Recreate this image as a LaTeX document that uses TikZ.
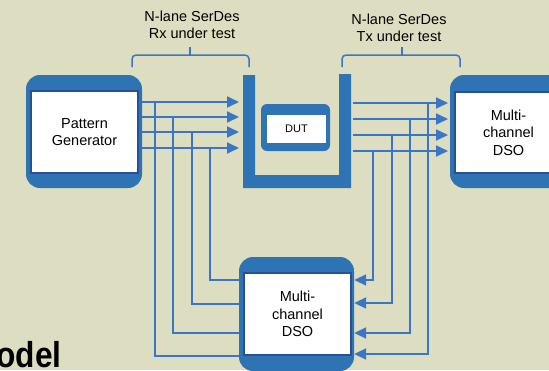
\documentclass[tikz,border=0pt]{standalone}
\usepackage{fontspec}
\setmainfont{Liberation Sans}
\usetikzlibrary{arrows.meta}

\definecolor{bgolive}{RGB}{221,221,193}
\definecolor{panelblue}{RGB}{46,116,181}
\definecolor{wireblue}{RGB}{59,118,196}
\definecolor{rimblue}{RGB}{41,80,145}

\begin{document}
\begin{tikzpicture}[x=1pt,y=-1pt,
  shell/.style={fill=panelblue, draw=none, rounded corners=14pt, inner sep=0pt},
  face/.style={fill=white, draw=rimblue, line width=1.4pt, inner sep=0pt, align=center,
               font=\fontsize{14.5}{17.5}\selectfont},
  wire/.style={draw=wireblue, line width=1.8pt},
  feed/.style={wire, -{Triangle[length=12pt,width=11pt]}},
  bracket/.style={draw=wireblue, line width=1.5pt, rounded corners=4pt},
  caption/.style={anchor=base, inner sep=0pt, font=\fontsize{14.5}{17.5}\selectfont}]

% canvas
\useasboundingbox (0,0) rectangle (549,370);
\fill[bgolive] (0,0) rectangle (549,370);
\clip (0,0) rectangle (549,370);

% pattern generator
\node[shell, minimum width=116pt, minimum height=113pt] (pgshell) at (84,131.5) {};
\node[face, minimum width=107pt, minimum height=82pt] (pg) at (84.5,132) {Pattern\\Generator};

% receiving oscilloscope on the right
\node[shell, minimum width=116pt, minimum height=113pt] (rdshell) at (508,131.5) {};
\node[face, minimum width=107pt, minimum height=81pt] (rdso) at (508.5,132.5) {Multi-\\channel\\DSO};

% oscilloscope at the bottom
\node[shell, minimum width=115pt, minimum height=114pt] (bdshell) at (296.5,314) {};
\node[face, minimum width=107pt, minimum height=82pt] (bdso) at (297.5,314) {Multi-\\channel\\DSO};

% DUT fixture channel
\fill[panelblue] (243,75) -- (255,75) -- (255,175) -- (339,175) -- (339,74)
                 -- (351,74) -- (351,188) -- (243,188) -- cycle;
\node[shell, rounded corners=6pt, minimum width=69pt, minimum height=47pt] (dutshell) at (295.5,127.5) {};
\node[face, draw=none, minimum width=59pt, minimum height=28pt,
      font=\fontsize{11}{13}\selectfont] (dut) at (296.5,129) {DUT};

% lane end points
\coordinate (rx1) at (239,102);
\coordinate (rx2) at (239,117);
\coordinate (rx3) at (239,132);
\coordinate (rx4) at (239,148);
\coordinate (uR)  at (353,131);
\coordinate (tx1) at (448,103);
\coordinate (tx2) at (448,119);
\coordinate (tx3) at (448,135);
\coordinate (tx4) at (448,151);

% Rx lanes into the DUT
\foreach \k in {1,...,4} \draw[feed] (pgshell.east |- rx\k) -- (rx\k);
% Tx lanes out of the DUT
\foreach \k in {1,...,4} \draw[feed] (uR |- tx\k) -- (tx\k);

% taps on the Rx lanes to the bottom scope
\coordinate (ta1) at (155,102);
\coordinate (ta2) at (173,117);
\coordinate (ta3) at (192,132);
\coordinate (ta4) at (210,148);
\draw[wire] (ta1) |- (bdshell.west |- 0,356);
\draw[wire] (ta2) |- (bdshell.west |- 0,333);
\draw[wire] (ta3) |- (bdshell.west |- 0,304);
\draw[wire] (ta4) |- (bdshell.west |- 0,280);

% taps on the Tx lanes to the bottom scope
\coordinate (tb1) at (428,103);
\coordinate (tb2) at (410,119);
\coordinate (tb3) at (392,135);
\coordinate (tb4) at (373,151);
\draw[feed] (tb1) |- (bdshell.east |- 0,354);
\draw[feed] (tb2) |- (bdshell.east |- 0,333);
\draw[feed] (tb3) |- (bdshell.east |- 0,303);
\draw[feed] (tb4) |- (bdshell.east |- 0,280);

% brackets and their captions
\draw[bracket] (132,67) -- (132,55) -- (249,55) -- (249,67);
\draw[bracket] (190,55) -- (190,47);
\draw[bracket] (342,67) -- (342,55) -- (460,55) -- (460,67);
\draw[bracket] (402,55) -- (402,47);

\node[caption] (rxa) at (192,21) {N-lane SerDes};
\node[caption] (rxb) at (192,38) {Rx under test};
\node[caption] (txa) at (399,24) {N-lane SerDes};
\node[caption] (txb) at (399,41) {Tx under test};

% slide title running off the lower left edge
\node[anchor=base west, inner sep=0pt, font=\fontsize{36}{36}\selectfont\bfseries] (title)
  at (-30,367) {\scalebox{0.88}[1]{Model}};
\end{tikzpicture}
\end{document}
